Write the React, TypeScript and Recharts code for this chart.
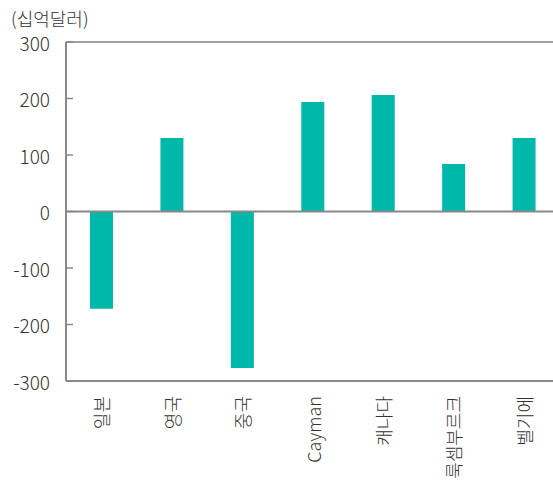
import React from 'react';
import { BarChart, Bar, XAxis, YAxis, ReferenceLine } from 'recharts';

const countries = ['일본', '영국', '중국', 'Cayman', '캐나다', '룩셈부르크', '벨기에'];
const netValues = [-172, 130, -277, 194, 206, 84, 130];
const yTicks = [-300, -200, -100, 0, 100, 200, 300];

const data = countries.map((name, i) => ({ name, value: netValues[i] }));

const FONT = '"Noto Sans CJK KR", "Noto Sans", sans-serif';

const YTick = (props: any) => {
    const { x, y, payload } = props;
    return (
        <g>
            <line x1={x} y1={y} x2={x + 7} y2={y} stroke="#888" strokeWidth={1.5} />
            <text x={x - 16} y={y} textAnchor="end" dominantBaseline="central"
                fontSize={19} fontFamily={FONT} fontWeight={300} fill="#333">
                {payload.value}
            </text>
        </g>
    );
};

const XTick = (props: any) => {
    const { x, y, payload } = props;
    return (
        <text x={x} y={y + 15} transform={`rotate(-90, ${x}, ${y + 15})`}
            textAnchor="end" dominantBaseline="central"
            fontSize={18} fontFamily={FONT} fontWeight={300} fill="#333">
            {payload.value}
        </text>
    );
};

const App = () => {
    return (
        <div style={{ position: 'absolute', left: 0, top: 0, width: 553, height: 494, background: '#fff', overflow: 'hidden' }}>
            <div style={{ position: 'absolute', left: 11, top: 5, fontSize: 18, fontFamily: FONT, fontWeight: 300, color: '#333', whiteSpace: 'nowrap' }}>
                (십억달러)
            </div>
            <BarChart width={559} height={494} data={data}
                margin={{ top: 42, right: 0, left: 0, bottom: 0 }}>
                <YAxis domain={[-300, 300]} ticks={yTicks} width={66}
                    tickSize={0} tickMargin={0} tickLine={false}
                    axisLine={{ stroke: '#888', strokeWidth: 2 }}
                    tick={<YTick />} interval={0} />
                <XAxis dataKey="name" height={113} interval={0}
                    tickSize={0} tickMargin={0} tickLine={false}
                    axisLine={{ stroke: '#888', strokeWidth: 2 }}
                    tick={<XTick />} />
                <ReferenceLine y={300} stroke="#a0a0a0" strokeWidth={2} />
                <ReferenceLine y={0} stroke="#888" strokeWidth={2} />
                <Bar dataKey="value" fill="#00B8A9" barSize={23} isAnimationActive={false} />
            </BarChart>
        </div>
    );
};

export default App;
